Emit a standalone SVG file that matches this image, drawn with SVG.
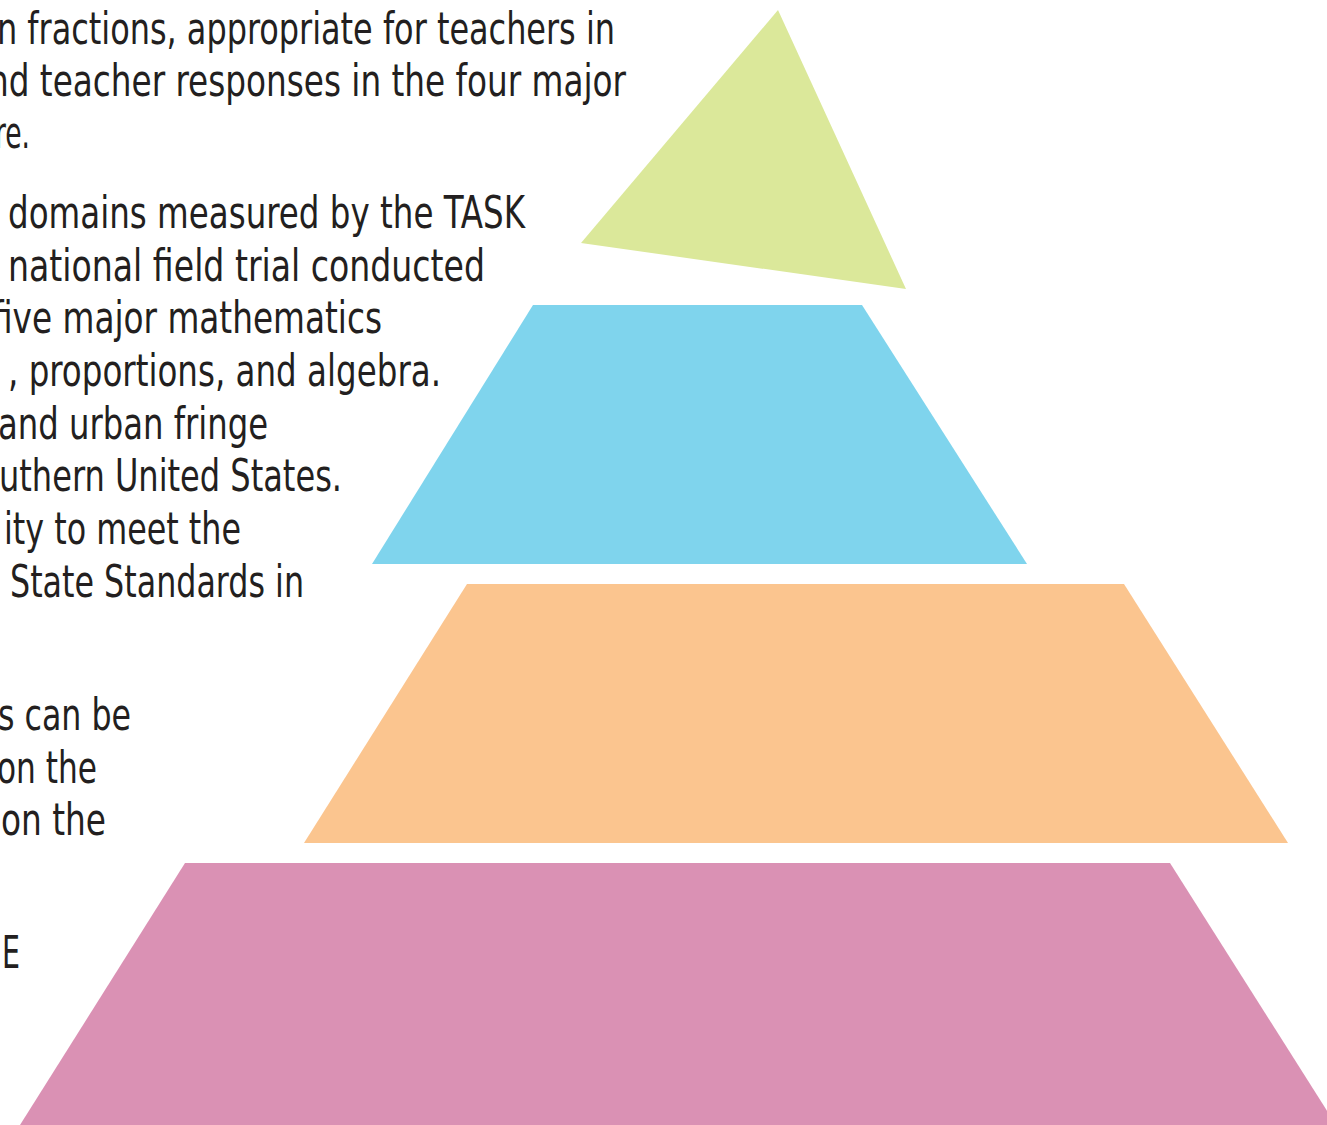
<svg xmlns="http://www.w3.org/2000/svg" width="1327" height="1125" viewBox="0 0 1327 1125">
<style>
.t{font-family:"DejaVu Sans Condensed","Liberation Sans",sans-serif;font-size:44px;fill:#231f20}
</style>
<rect width="1327" height="1125" fill="#ffffff"/>
<g id="body-text">
<text class="t" x="-3" y="44" textLength="618" lengthAdjust="spacingAndGlyphs">n fractions, appropriate for teachers in</text>
<text class="t" x="-12" y="96" textLength="638" lengthAdjust="spacingAndGlyphs">nd teacher responses in the four major</text>
<text class="t" x="-5" y="148" textLength="35" lengthAdjust="spacingAndGlyphs">re.</text>
<text class="t" x="8" y="228" textLength="517" lengthAdjust="spacingAndGlyphs">domains measured by the TASK</text>
<text class="t" x="8" y="281" textLength="477" lengthAdjust="spacingAndGlyphs">national field trial conducted</text>
<text class="t" x="-8" y="333" textLength="390" lengthAdjust="spacingAndGlyphs">five major mathematics</text>
<text class="t" x="8" y="386" textLength="433" lengthAdjust="spacingAndGlyphs">, proportions, and algebra.</text>
<text class="t" x="-2" y="439" textLength="270" lengthAdjust="spacingAndGlyphs">and urban fringe</text>
<text class="t" x="-1" y="491" textLength="343" lengthAdjust="spacingAndGlyphs">uthern United States.</text>
<text class="t" x="4" y="544" textLength="237" lengthAdjust="spacingAndGlyphs">ity to meet the</text>
<text class="t" x="10" y="597" textLength="294" lengthAdjust="spacingAndGlyphs">State Standards in</text>
<text class="t" x="-2" y="730" textLength="133" lengthAdjust="spacingAndGlyphs">s can be</text>
<text class="t" x="-3" y="783" textLength="100" lengthAdjust="spacingAndGlyphs">on the</text>
<text class="t" x="1" y="835" textLength="105" lengthAdjust="spacingAndGlyphs">on the</text>
<text class="t" x="2" y="968" textLength="18" lengthAdjust="spacingAndGlyphs">E</text>
</g>
<g id="tier-1-top"><polygon points="778,10 906,289 581,243" fill="#dbe89a"/></g>
<g id="tier-2"><polygon points="533,305 862,305 1027,564 372,564" fill="#7fd4ed"/></g>
<g id="tier-3"><polygon points="467,584 1124,584 1288,843 304,843" fill="#fbc58f"/></g>
<g id="tier-4-base"><polygon points="185,863 1170,863 1336,1125 20,1125" fill="#da91b4"/></g>
<g id="connectors"></g>
</svg>
